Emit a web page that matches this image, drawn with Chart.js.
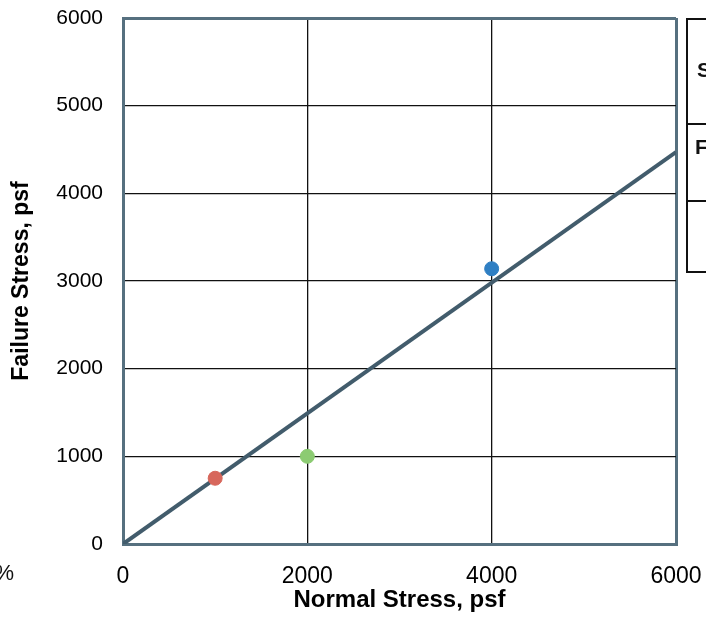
<!DOCTYPE html>
<html>
<head>
<meta charset="utf-8">
<script src="https://cdn.jsdelivr.net/npm/chart.js@4/dist/chart.umd.min.js"></script>
<style>
  html, body { margin: 0; padding: 0; background: #fff; }
  canvas { display: block; }
</style>
</head>
<body>
<canvas id="shearChart" width="706" height="623"></canvas>
<script>
// test results
const normalStress = [1000, 2000, 4000];
const failureStress = [750, 1000, 3140];
const pointColors = ['#d7675c', '#8ccb72', '#2f7fc3'];

// failure envelope
const envelopeX = [0, 6000];
const envelopeY = [0, 4470];

const xTickValues = [0, 2000, 4000, 6000];
const yTickValues = [0, 1000, 2000, 3000, 4000, 5000, 6000];

const frameColor = '#56707f';

// bits of the neighbouring table / page that are cut off in the scan
const pageScraps = {
    id: 'pageScraps',
    afterDraw(chart) {
        const ctx = chart.ctx;
        ctx.save();
        ctx.strokeStyle = '#111';
        ctx.lineWidth = 2;
        ctx.beginPath();
        ctx.moveTo(710, 19); ctx.lineTo(687, 19); ctx.lineTo(687, 272); ctx.lineTo(710, 272);
        ctx.moveTo(687, 124); ctx.lineTo(710, 124);
        ctx.moveTo(687, 201); ctx.lineTo(710, 201);
        ctx.stroke();
        ctx.fillStyle = '#111';
        ctx.font = 'bold 21px "Liberation Sans", Arial, sans-serif';
        ctx.textBaseline = 'middle';
        ctx.textAlign = 'left';
        ctx.fillText('S', 697, 71);
        ctx.fillText('F', 695, 148);
        ctx.font = '22px "Liberation Sans", Arial, sans-serif';
        ctx.textAlign = 'right';
        ctx.fillText('%', 14, 574);
        ctx.restore();
    }
};

const isEdge = (c, max) => c.tick && (c.tick.value === 0 || c.tick.value === max);
const plain = (v) => String(v);

new Chart(document.getElementById('shearChart'), {
    type: 'scatter',
    data: {
        datasets: [
            {
                type: 'scatter',
                data: normalStress.map((x, i) => ({ x: x, y: failureStress[i] })),
                backgroundColor: pointColors,
                borderColor: pointColors,
                pointRadius: 7,
                order: 1
            },
            {
                type: 'line',
                data: envelopeX.map((x, i) => ({ x: x, y: envelopeY[i] })),
                borderColor: '#425c6c',
                borderWidth: 4,
                pointRadius: 0,
                fill: false,
                order: 2
            }
        ]
    },
    plugins: [pageScraps],
    options: {
        responsive: false,
        animation: false,
        layout: { padding: { top: 18, right: 30, left: 0, bottom: 0 } },
        plugins: {
            legend: { display: false },
            tooltip: { enabled: false }
        },
        scales: {
            x: {
                type: 'linear',
                min: 0,
                max: 6000,
                afterBuildTicks: (axis) => { axis.ticks = xTickValues.map(v => ({ value: v })); },
                afterFit: (axis) => {
                    axis.height = 79;
                    axis.paddingLeft = 0;
                    axis.paddingRight = 0;
                },
                grid: {
                    drawTicks: false,
                    color: (c) => isEdge(c, 6000) ? frameColor : '#111',
                    lineWidth: (c) => isEdge(c, 6000) ? 3 : 1.3
                },
                border: { color: frameColor, width: 3 },
                ticks: {
                    padding: 19,
                    color: '#000',
                    callback: plain,
                    font: { family: '"Liberation Sans", Arial, sans-serif', size: 23 }
                },
                title: {
                    display: true,
                    text: 'Normal Stress, psf',
                    color: '#000',
                    padding: { top: 0, bottom: 8 },
                    font: { family: '"Liberation Sans", Arial, sans-serif', size: 24, weight: 'bold' }
                }
            },
            y: {
                type: 'linear',
                min: 0,
                max: 6000,
                afterBuildTicks: (axis) => { axis.ticks = yTickValues.map(v => ({ value: v })); },
                afterFit: (axis) => {
                    axis.width = 123;
                    axis.paddingTop = 0;
                    axis.paddingBottom = 0;
                },
                grid: {
                    drawTicks: false,
                    color: (c) => isEdge(c, 6000) ? frameColor : '#111',
                    lineWidth: (c) => isEdge(c, 6000) ? 3 : 1.3
                },
                border: { color: frameColor, width: 3 },
                ticks: {
                    padding: 20,
                    color: '#000',
                    callback: plain,
                    font: { family: '"Liberation Sans", Arial, sans-serif', size: 21 }
                },
                title: {
                    display: true,
                    text: 'Failure Stress, psf',
                    color: '#000',
                    padding: { top: 8, bottom: 0 },
                    font: { family: '"Liberation Sans", Arial, sans-serif', size: 23, weight: 'bold' }
                }
            }
        }
    }
});
</script>
</body>
</html>
